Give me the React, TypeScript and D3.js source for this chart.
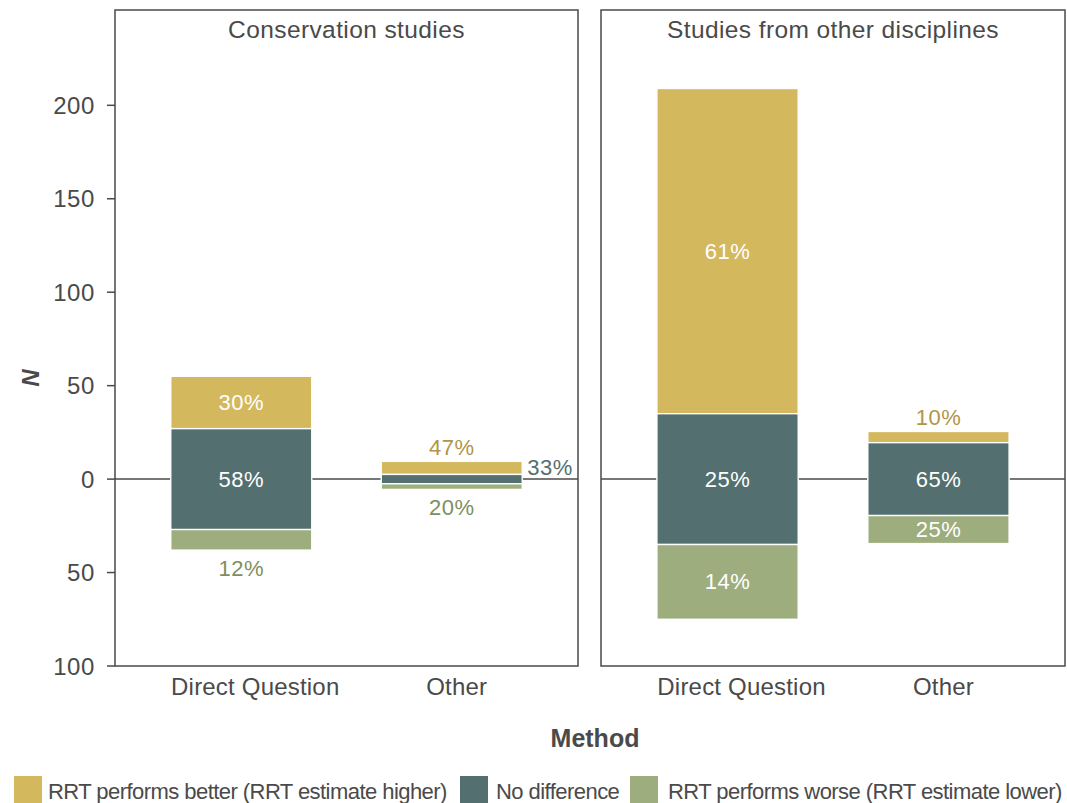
import React from "react";
import * as d3 from "d3";

const panels = ["Conservation studies", "Studies from other disciplines"];
const methods = ["Direct Question", "Other"];
// [panel][method]
const better = [[28, 7], [174, 6]];
const noDiff = [[54, 5], [70, 39]];
const worse = [[11, 3], [40, 15]];
const yTicks = [-100, -50, 0, 50, 100, 150, 200];
const legendLabels = [
  "RRT performs better (RRT estimate higher)",
  "No difference",
  "RRT performs worse (RRT estimate lower)",
];

const COL_BETTER = "#D4B85E";
const COL_NODIFF = "#546F70";
const COL_WORSE = "#9DAD7E";
const TXT_BETTER = "#B0954A";
const TXT_NODIFF = "#546F70";
const TXT_WORSE = "#7E8F5E";
const TXT = "#4a4a4a";
const FONT = "'Liberation Sans', Arial, Helvetica, sans-serif";

export default function App() {
  const W = 1067, H = 803;
  const top = 10, bottom = 666;
  const panelX = [
    [115, 578],
    [601, 1065],
  ];
  const y = d3.scaleLinear().domain([-100, 251]).range([bottom, top]);
  const labelShift = [14, 5];

  const items: React.ReactNode[] = [];

  panels.forEach((pName, pi) => {
    const [x0, x1] = panelX[pi];
    // ggplot-like discrete scale: 0.6 expansion on each side
    const x = d3.scalePoint<string>().domain(methods).range([x0, x1]).padding(0.6);
    const unit = (x1 - x0) / 2.2;
    const bw = 0.67 * unit;

    items.push(
      <g key={"panel" + pi}>
        <rect x={x0} y={top} width={x1 - x0} height={bottom - top} fill="white" stroke={TXT} strokeWidth={1.5} />
        <line x1={x0} x2={x1} y1={y(0)} y2={y(0)} stroke={TXT} strokeWidth={1.5} />
        <text x={(x0 + x1) / 2} y={29} textAnchor="middle" dominantBaseline="central" fontSize={24.5} letterSpacing={0.4} fill={TXT}>
          {pName}
        </text>
      </g>
    );

    methods.forEach((m, mi) => {
      const b = better[pi][mi], n = noDiff[pi][mi], w = worse[pi][mi];
      const total = b + n + w;
      const pct = (v: number) => Math.round((v / total) * 100) + "%";
      const c = x(m) as number;
      const left = c - bw / 2;
      const segs = [
        { key: "b", y0: n / 2, y1: n / 2 + b, fill: COL_BETTER, tc: TXT_BETTER, v: b, pos: "above" },
        { key: "n", y0: -n / 2, y1: n / 2, fill: COL_NODIFF, tc: TXT_NODIFF, v: n, pos: "right" },
        { key: "w", y0: -n / 2 - w, y1: -n / 2, fill: COL_WORSE, tc: TXT_WORSE, v: w, pos: "below" },
      ];
      segs.forEach((s) => {
        const yt = y(s.y1), yb = y(s.y0);
        const h = yb - yt;
        items.push(
          <rect key={`r${pi}${mi}${s.key}`} x={left} y={yt} width={bw} height={h} fill={s.fill} stroke="white" strokeWidth={1.4} />
        );
        let lx = c, ly = (yt + yb) / 2, anchor = "middle", col = "white";
        if (h < 25) {
          col = s.tc;
          if (s.pos === "above") ly = yt - 14;
          else if (s.pos === "below") ly = yb + 18;
          else {
            lx = left + bw + 5;
            anchor = "start";
            ly = (yt + yb) / 2 - 12;
          }
        }
        items.push(
          <text key={`t${pi}${mi}${s.key}`} x={lx} y={ly} textAnchor={anchor as any} dominantBaseline="central" fontSize={22} letterSpacing={0.5} fill={col}>
            {pct(s.v)}
          </text>
        );
      });
      items.push(
        <text key={`xl${pi}${mi}`} x={c + labelShift[mi]} y={686} textAnchor="middle" dominantBaseline="central" fontSize={24} letterSpacing={0.2} fill={TXT}>
          {m}
        </text>
      );
    });
  });

  // y axis ticks
  yTicks.forEach((t) => {
    items.push(
      <g key={"yt" + t}>
        <line x1={107} x2={115} y1={y(t)} y2={y(t)} stroke={TXT} strokeWidth={1.5} />
        <text x={95} y={y(t)} textAnchor="end" dominantBaseline="central" fontSize={24} letterSpacing={0.6} fill={TXT}>
          {Math.abs(t)}
        </text>
      </g>
    );
  });

  const legendSq = [14, 460, 630];
  const legendTx = [48, 496, 668];
  const legendColors = [COL_BETTER, COL_NODIFF, COL_WORSE];

  return (
    <svg width={W} height={H} style={{ position: "absolute", left: 0, top: 0 }} fontFamily={FONT}>
      <rect width={W} height={H} fill="white" />
      {items}
      <text x={30} y={378} transform="rotate(-90 30 378)" textAnchor="middle" dominantBaseline="central" fontSize={24} fontWeight="bold" fontStyle="italic" fill={TXT}>
        N
      </text>
      <text x={595} y={738} textAnchor="middle" dominantBaseline="central" fontSize={25} fontWeight="bold" fill={TXT}>
        Method
      </text>
      {legendLabels.map((l, i) => (
        <g key={"lg" + i}>
          <rect x={legendSq[i]} y={776} width={28} height={28} fill={legendColors[i]} />
          <text x={legendTx[i]} y={791} dominantBaseline="central" fontSize={22} fill={TXT} letterSpacing={-0.55}>
            {l}
          </text>
        </g>
      ))}
    </svg>
  );
}
